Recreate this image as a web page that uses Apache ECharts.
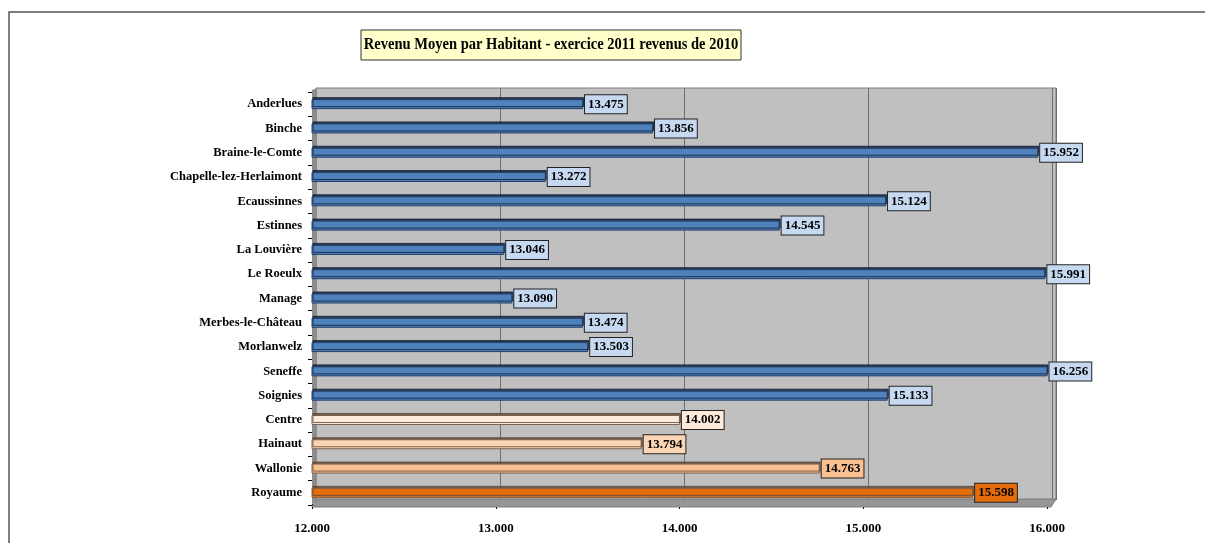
<!DOCTYPE html>
<html>
<head>
<meta charset="utf-8">
<script src="https://cdn.jsdelivr.net/npm/echarts@6/dist/echarts.min.js"></script>
<style>html,body{margin:0;padding:0;background:#fff;}#c{width:1205px;height:543px;}</style>
</head>
<body>
<div id="c"></div>
<script>
const titleText = 'Revenu Moyen par Habitant - exercice 2011 revenus de 2010';
const categories = ['Anderlues','Binche','Braine-le-Comte','Chapelle-lez-Herlaimont','Ecaussinnes','Estinnes','La Louvière','Le Roeulx','Manage','Merbes-le-Château','Morlanwelz','Seneffe','Soignies','Centre','Hainaut','Wallonie','Royaume'];
const values = [13475,13856,15952,13272,15124,14545,13046,15991,13090,13474,13503,16256,15133,14002,13794,14763,15598];
const xMin = 12000, xMax = 16000, xStep = 1000;

const barColors = ['#4F81BD','#4F81BD','#4F81BD','#4F81BD','#4F81BD','#4F81BD','#4F81BD','#4F81BD','#4F81BD','#4F81BD','#4F81BD','#4F81BD','#4F81BD','#FDEADA','#FCD5B5','#FAC090','#E46C0A'];
const labelBg = ['#C6D9F1','#C6D9F1','#C6D9F1','#C6D9F1','#C6D9F1','#C6D9F1','#C6D9F1','#C6D9F1','#C6D9F1','#C6D9F1','#C6D9F1','#C6D9F1','#C6D9F1','#FDEADA','#FCD5B5','#FAC090','#E46C0A'];

function fmt(v){ return String(v).replace(/\B(?=(\d{3})+(?!\d))/g,'.'); }

const FONT = '"Liberation Serif","Times New Roman",serif';
const chart = echarts.init(document.getElementById('c'), null, {renderer:'canvas'});
const wallWidth = 740, frontWidth = 735;
const wallMax = xMin + (xMax - xMin) * wallWidth / (wallWidth - 4);

chart.setOption({
  animation:false,
  backgroundColor:'#fff',
  graphic:[
    {type:'rect', shape:{x:9,y:12,width:1400,height:800}, style:{fill:'none',stroke:'#555',lineWidth:1.5}, z:-10},
    {type:'rect', shape:{x:361,y:30,width:380,height:30}, style:{fill:'#FFFFCC',stroke:'#333',lineWidth:1}, z:10},
    {type:'text', x:551, y:45, scaleX:0.855, z:11,
      style:{text:titleText, align:'center', verticalAlign:'middle', fill:'#000',
        font:'bold 17px "Liberation Serif","Times New Roman",serif'}}
  ],
  grid:[
    {left:316, top:88, width:wallWidth, height:412, show:true, backgroundColor:'#C0C0C0', borderColor:'#7F7F7F', borderWidth:1},
    {left:312, top:92, width:frontWidth, height:413, show:false}
  ],
  xAxis:[
    {type:'value', gridIndex:0, min:xMin, max:wallMax, interval:xStep,
      axisLine:{show:false}, axisTick:{show:false}, axisLabel:{show:false},
      splitLine:{show:true, lineStyle:{color:'#6F6F6F',width:1}}},
    {type:'value', gridIndex:1, min:xMin, max:xMax, interval:xStep,
      axisLine:{show:false}, axisTick:{show:true, length:4, inside:false, lineStyle:{color:'#000'}},
      splitLine:{show:false},
      axisLabel:{formatter:v=>fmt(v), fontFamily:FONT, fontWeight:'bold', fontSize:13, color:'#000', margin:17}}
  ],
  yAxis:[
    {type:'category', gridIndex:0, data:categories, show:false},
    {type:'category', gridIndex:1, data:categories, inverse:true,
      axisLine:{show:true, lineStyle:{color:'#000',width:1}},
      axisTick:{show:true, length:4, lineStyle:{color:'#000'}},
      axisLabel:{fontFamily:FONT, fontWeight:'bold', fontSize:12.5, color:'#000', margin:10}}
  ],
  series:[
    {type:'custom', xAxisIndex:1, yAxisIndex:1, silent:true, z:1, clip:false,
      data:[[xMin, 0]],
      renderItem:function(params, api){
        const cs = params.coordSys;
        const floorTop = cs.y + cs.height - 6;
        return {type:'group', children:[
          {type:'polygon', shape:{points:[[cs.x,cs.y-2],[cs.x+5,cs.y-4],[cs.x+5,floorTop],[cs.x,cs.y+cs.height]]}, style:{fill:'#8C8C8C'}},
          {type:'polygon', shape:{points:[[cs.x+5,floorTop],[cs.x+cs.width+9,floorTop],[cs.x+cs.width+4,cs.y+cs.height+2],[cs.x,cs.y+cs.height+2]]}, style:{fill:'#969696', stroke:'#7A7A7A', lineWidth:1}}
        ]};
      }},
    {type:'bar', xAxisIndex:1, yAxisIndex:1, barWidth:10, z:3,
    data: values.map((v,i)=>({value:v,
      itemStyle:{color:barColors[i], borderColor: i<13 ? '#24406B' : '#7A6050', borderWidth:1,
        shadowColor: i<13 ? 'rgba(20,35,60,0.85)' : 'rgba(90,70,55,0.8)', shadowOffsetY:-2, shadowOffsetX:1, shadowBlur:0},
      label:{backgroundColor:labelBg[i]}})),
    label:{show:true, position:'right', distance:2, formatter:p=>fmt(p.value),
      fontFamily:FONT, fontWeight:'bold', fontSize:13, color:'#000',
      borderColor:'#222', borderWidth:1, padding:[3,3,2,3]}
  }]
});
</script>
</body>
</html>
